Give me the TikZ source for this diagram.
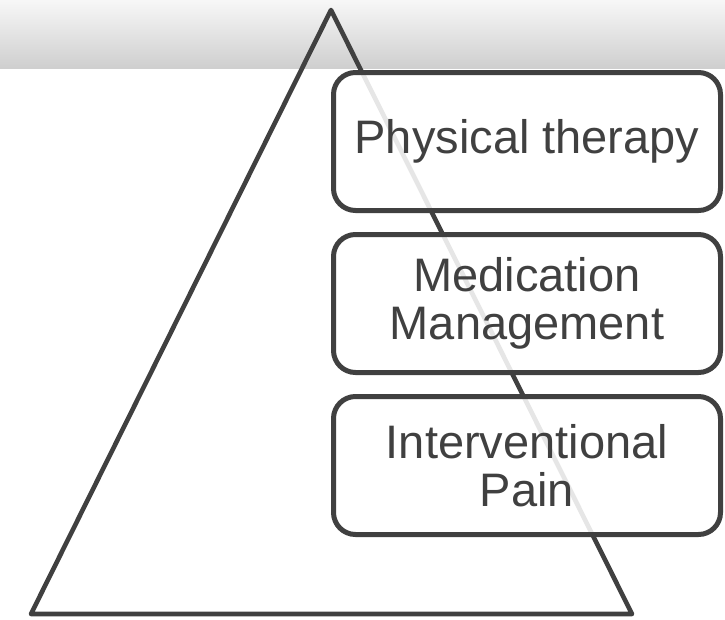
\documentclass[tikz,border=0pt]{standalone}
\usepackage{fontspec}
\setmainfont{Liberation Sans}
\usetikzlibrary{positioning}
\definecolor{ink}{HTML}{404040}

\begin{document}
\begin{tikzpicture}[x=1pt,y=-1pt,
		level/.style={rectangle,draw=ink,line width=5pt,rounded corners=22pt,
			fill=white,fill opacity=0.87,text opacity=1,text=ink,align=center,
			minimum width=387pt,minimum height=138pt,
			font=\fontsize{47}{48}\selectfont},
		pyramid/.style={draw=ink,line width=4.6pt,line join=round}]
		\useasboundingbox (0,0) rectangle (725,619);

		% header band
		\shade [top color=gray!6,bottom color=gray!38] (0,0) rectangle (725,68);

		% triangle
		\coordinate (apex) at (331,10);
		\coordinate (base-left) at (31,614);
		\coordinate (base-right) at (632,614);
		\draw [pyramid] (apex) -- (base-right) -- (base-left) -- cycle;

		% boxes
		\node [level] (physio) at (527,141.5) {Physical therapy};
		\node [level] (meds) [below=19pt of physio] {Medication\\Management};
		\node [level] (pain) [below=19pt of meds] {Interventional\\Pain};
	\end{tikzpicture}
\end{document}
